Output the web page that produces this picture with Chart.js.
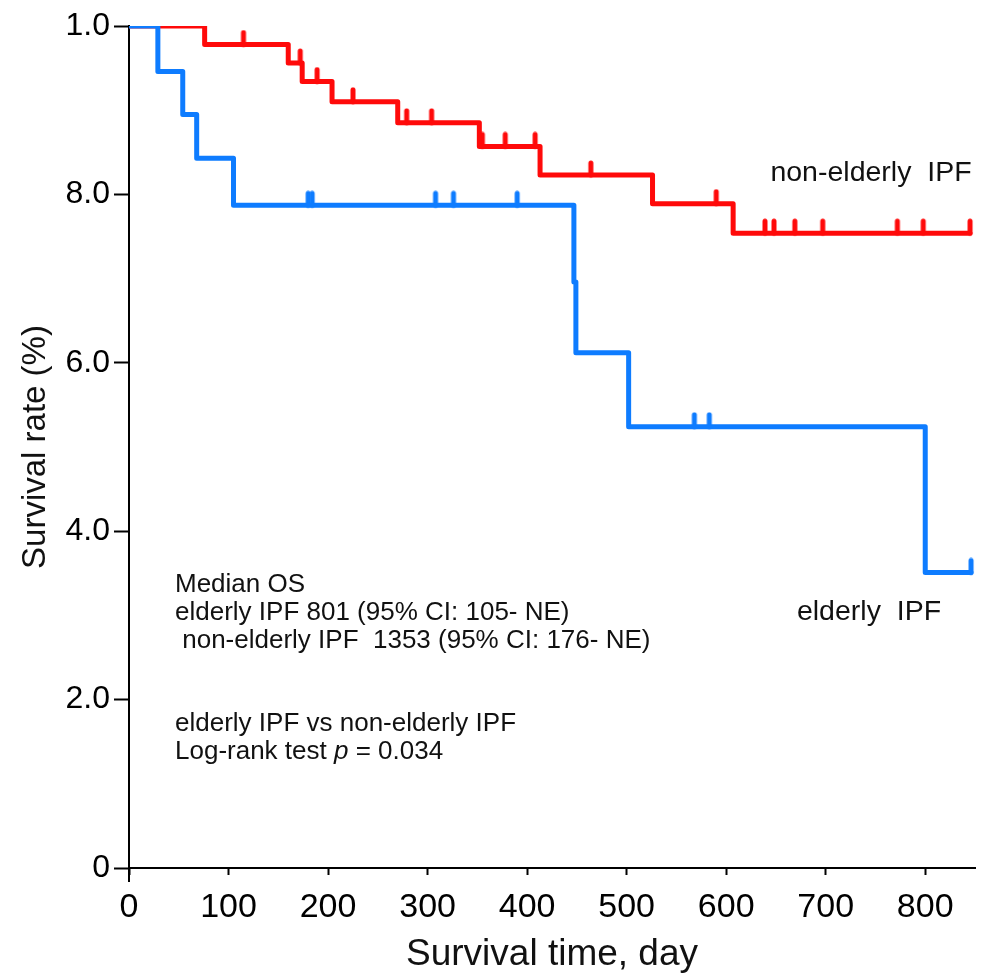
<!DOCTYPE html>
<html>
<head>
<meta charset="utf-8">
<script src="https://cdn.jsdelivr.net/npm/chart.js@4.4.1/dist/chart.umd.min.js"></script>
<style>
  html, body { margin: 0; padding: 0; background: #fff; }
</style>
</head>
<body>
<canvas id="km-chart" width="987" height="974"></canvas>
<script>
// Kaplan-Meier data (time in days, survival as fraction)
const elderlyTimes = [0, 29, 54, 68, 105, 447, 449, 502, 800, 846];
const elderlySurv = [1.0, 0.946, 0.895, 0.843, 0.787, 0.696, 0.612, 0.524, 0.351, 0.351];
const elderlyCensored = [180, 184, 308, 326, 390, 568, 583, 846];

const nonElderlyTimes = [0, 76, 160, 174, 204, 270, 352, 413, 526, 607, 845];
const nonElderlySurv = [1.0, 0.978, 0.956, 0.934, 0.910, 0.885, 0.857, 0.823, 0.789, 0.754, 0.754];
const nonElderlyCensored = [115, 172, 189, 225, 279, 304, 355, 378, 408, 464, 590, 639, 648, 669, 697, 772, 798, 845];

// axis ticks (labels as printed in the original)
const xTickValues = [0, 100, 200, 300, 400, 500, 600, 700, 800];
const yTickValues = [0, 0.2, 0.4, 0.6, 0.8, 1.0];
const yTickLabels = ['0', '2.0', '4.0', '6.0', '8.0', '1.0'];

const RED = 'rgb(255, 10, 10)';
const BLUE = 'rgb(14, 124, 255)';
const FONT = '"Liberation Sans", Arial, sans-serif';

// survival level of a curve at time t (step function lookup)
function levelAt(times, surv, t) {
    let s = surv[0];
    for (let i = 0; i < times.length; i++) {
        if (times[i] <= t) s = surv[i];
    }
    return s;
}

// censor mark: short vertical tick that rises from the curve
function censorMark(color) {
    const c = document.createElement('canvas');
    c.width = 8;
    c.height = 30;
    const g = c.getContext('2d');
    g.strokeStyle = color;
    g.lineWidth = 5;
    g.lineCap = 'round';
    g.beginPath();
    g.moveTo(4, 3);
    g.lineTo(4, 15);
    g.stroke();
    return c;
}

const toXY = (times, surv) => times.map((t, i) => ({ x: t, y: surv[i] }));
const censorXY = (cens, times, surv) => cens.map(t => ({ x: t, y: levelAt(times, surv, t) }));

// text overlays (median OS box, log-rank, curve labels)
const textPlugin = {
    id: 'kmText',
    afterDraw(chart) {
        const { ctx, chartArea } = chart;
        const xs = chart.scales.x;
        ctx.save();

        // y axis runs a bit below the x axis
        ctx.strokeStyle = '#000';
        ctx.lineWidth = 2;
        ctx.beginPath();
        ctx.moveTo(xs.getPixelForValue(0), chartArea.bottom);
        ctx.lineTo(xs.getPixelForValue(0), chartArea.bottom + 14);
        ctx.stroke();

        ctx.fillStyle = '#111';
        ctx.textBaseline = 'middle';
        ctx.textAlign = 'left';
        ctx.font = '26px ' + FONT;
        const left = 175;
        ctx.fillText('Median OS', left, 585);
        ctx.fillText('elderly IPF 801 (95% CI: 105- NE)', left, 613);
        ctx.fillText(' non-elderly IPF  1353 (95% CI: 176- NE)', left, 641);
        ctx.fillText('elderly IPF vs non-elderly IPF', left, 724);

        const pre = 'Log-rank test ';
        ctx.fillText(pre, left, 752);
        let w = ctx.measureText(pre).width;
        ctx.font = 'italic 26px ' + FONT;
        ctx.fillText('p', left + w, 752);
        w += ctx.measureText('p').width;
        ctx.font = '26px ' + FONT;
        ctx.fillText(' = 0.034', left + w, 752);

        ctx.textAlign = 'center';
        ctx.font = '28.5px ' + FONT;
        ctx.fillText('non-elderly  IPF', 871, 173);
        ctx.fillText('elderly  IPF', 869, 612);
        ctx.restore();
    }
};

const ctx = document.getElementById('km-chart').getContext('2d');

new Chart(ctx, {
    type: 'line',
    data: {
        datasets: [
            {
                label: 'elderly IPF',
                data: toXY(elderlyTimes, elderlySurv),
                borderColor: BLUE,
                borderWidth: 5,
                stepped: 'before',
                pointRadius: 0,
                borderJoinStyle: 'round',
                borderCapStyle: 'round',
                order: 0
            },
            {
                label: 'elderly IPF censored',
                data: censorXY(elderlyCensored, elderlyTimes, elderlySurv),
                showLine: false,
                pointStyle: censorMark(BLUE),
                pointRadius: 6,
                order: 0
            },
            {
                label: 'non-elderly IPF',
                data: toXY(nonElderlyTimes, nonElderlySurv),
                borderColor: RED,
                borderWidth: 5,
                stepped: 'before',
                pointRadius: 0,
                borderJoinStyle: 'round',
                borderCapStyle: 'round',
                order: 1
            },
            {
                label: 'non-elderly IPF censored',
                data: censorXY(nonElderlyCensored, nonElderlyTimes, nonElderlySurv),
                showLine: false,
                pointStyle: censorMark(RED),
                pointRadius: 6,
                order: 1
            }
        ]
    },
    options: {
        responsive: false,
        animation: false,
        layout: { padding: { top: 26, right: 12, left: 0, bottom: 0 } },
        plugins: {
            legend: { display: false },
            tooltip: { enabled: false }
        },
        scales: {
            x: {
                type: 'linear',
                min: 0,
                max: 850,
                afterBuildTicks: s => { s.ticks = xTickValues.map(v => ({ value: v })); },
                afterFit: s => { s.height = 106; },
                ticks: {
                    color: '#000',
                    font: { family: FONT, size: 34 },
                    padding: 12,
                    maxRotation: 0,
                    autoSkip: false
                },
                grid: { drawOnChartArea: false, tickLength: 7, tickColor: '#000', tickWidth: 2 },
                border: { color: '#000', width: 2 },
                title: {
                    display: true,
                    text: 'Survival time, day',
                    color: '#111',
                    font: { family: FONT, size: 37 },
                    padding: { top: 0, bottom: -3 }
                }
            },
            y: {
                type: 'linear',
                min: 0,
                max: 1,
                afterBuildTicks: s => { s.ticks = yTickValues.map(v => ({ value: v })); },
                afterFit: s => { s.width = 129; },
                ticks: {
                    color: '#000',
                    font: { family: FONT, size: 32 },
                    padding: 4,
                    callback: v => yTickLabels[yTickValues.indexOf(v)]
                },
                grid: { drawOnChartArea: false, tickLength: 15, tickColor: '#000', tickWidth: 2 },
                border: { color: '#000', width: 2 },
                title: {
                    display: true,
                    text: 'Survival rate (%)',
                    color: '#111',
                    font: { family: FONT, size: 33 },
                    padding: { top: 16, bottom: 0 }
                }
            }
        }
    },
    plugins: [textPlugin]
});
</script>
</body>
</html>
